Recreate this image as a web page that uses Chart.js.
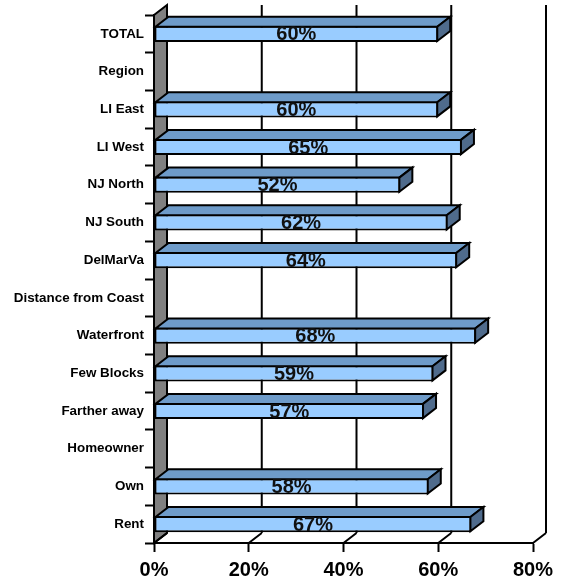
<!DOCTYPE html>
<html>
<head>
<meta charset="utf-8">
<script src="https://cdn.jsdelivr.net/npm/chart.js@4"></script>
<style>
  html, body { margin: 0; padding: 0; background: #fff; }
  #wrap { width: 561px; height: 581px; }
</style>
</head>
<body>
<div id="wrap"><canvas id="c" width="561" height="581"></canvas></div>
<script>
// Row labels, top to bottom (section headers carry no bar)
const categories = ['TOTAL', 'Region', 'LI East', 'LI West', 'NJ North', 'NJ South', 'DelMarVa',
  'Distance from Coast', 'Waterfront', 'Few Blocks', 'Farther away', 'Homeowner', 'Own', 'Rent'];
// Share per row, in percent
const shares = [60, null, 60, 65, 52, 62, 64, null, 68, 59, 57, null, 58, 67];
// Axis ticks, in percent
const xTicks = [0, 20, 40, 60, 80];

const FONT = '"Liberation Sans", Arial, sans-serif';
const DEPTH = { x: 13, y: -10 };   // offset of the back plane
const FRONT = '#99CCFF', TOP = '#6E9BC9', SIDE = '#4F6B8C', WALL = '#808080', INK = '#000';

// Back wall gridlines, floor lines and the grey left wall
const backPlane = {
  id: 'backPlane',
  beforeDraw(chart) {
    const { ctx, chartArea: a, scales: { x } } = chart;
    ctx.save();
    ctx.lineWidth = 2;
    ctx.strokeStyle = INK;
    // left wall
    ctx.beginPath();
    ctx.moveTo(a.left, a.top);
    ctx.lineTo(a.left + DEPTH.x, a.top + DEPTH.y);
    ctx.lineTo(a.left + DEPTH.x, a.bottom + DEPTH.y);
    ctx.lineTo(a.left, a.bottom);
    ctx.closePath();
    ctx.fillStyle = WALL;
    ctx.fill();
    ctx.stroke();
    // vertical gridlines on the back wall and diagonals across the floor
    xTicks.forEach(v => {
      const px = x.getPixelForValue(v);
      ctx.beginPath();
      if (v !== 0) {
        ctx.moveTo(px + DEPTH.x, a.top + DEPTH.y);
        ctx.lineTo(px + DEPTH.x, a.bottom + DEPTH.y);
      }
      ctx.moveTo(px + DEPTH.x, a.bottom + DEPTH.y);
      ctx.lineTo(px, a.bottom);
      ctx.stroke();
    });
    ctx.restore();
  }
};

// Top and side faces of each bar, then the value labels
const barFaces = {
  id: 'barFaces',
  afterDatasetsDraw(chart) {
    const { ctx } = chart;
    const meta = chart.getDatasetMeta(0);
    ctx.save();
    ctx.lineWidth = 2;
    ctx.strokeStyle = INK;
    ctx.lineJoin = 'miter';
    meta.data.forEach((bar, i) => {
      if (shares[i] == null) return;
      const p = bar.getProps(['x', 'y', 'base', 'height'], true);
      const xl = p.base + 1, xr = p.x - 1;
      const yt = p.y - p.height / 2 + 1, yb = p.y + p.height / 2 - 1;
      // top face
      ctx.beginPath();
      ctx.moveTo(xl, yt);
      ctx.lineTo(xl + DEPTH.x, yt + DEPTH.y);
      ctx.lineTo(xr + DEPTH.x, yt + DEPTH.y);
      ctx.lineTo(xr, yt);
      ctx.closePath();
      ctx.fillStyle = TOP;
      ctx.fill();
      ctx.stroke();
      // end face
      ctx.beginPath();
      ctx.moveTo(xr, yt);
      ctx.lineTo(xr + DEPTH.x, yt + DEPTH.y);
      ctx.lineTo(xr + DEPTH.x, yb + DEPTH.y);
      ctx.lineTo(xr, yb);
      ctx.closePath();
      ctx.fillStyle = SIDE;
      ctx.fill();
      ctx.stroke();
    });
    // value labels centred on the front face
    ctx.fillStyle = '#111';
    ctx.font = 'bold 20px ' + FONT;
    ctx.textAlign = 'center';
    ctx.textBaseline = 'middle';
    meta.data.forEach((bar, i) => {
      if (shares[i] == null) return;
      const p = bar.getProps(['x', 'y', 'base'], true);
      ctx.fillText(shares[i] + '%', (p.x + p.base) / 2, p.y + 1);
    });
    ctx.restore();
  }
};

new Chart(document.getElementById('c'), {
  type: 'bar',
  data: {
    labels: categories,
    datasets: [{
      data: shares,
      backgroundColor: FRONT,
      borderColor: INK,
      borderWidth: 2,
      borderSkipped: false,
      barPercentage: 0.43,
      categoryPercentage: 1
    }]
  },
  options: {
    indexAxis: 'y',
    responsive: false,
    animation: false,
    devicePixelRatio: 1,
    layout: { padding: { top: 15, right: 28, bottom: 0, left: 0 } },
    plugins: { legend: { display: false }, tooltip: { enabled: false } },
    scales: {
      x: {
        min: xTicks[0],
        max: xTicks[xTicks.length - 1],
        afterBuildTicks(scale) { scale.ticks = xTicks.map(v => ({ value: v })); },
        afterFit(scale) { scale.height = 38; },
        ticks: {
          callback: v => v + '%',
          color: INK,
          font: { family: FONT, size: 20, weight: 'bold' },
          padding: 6,
          maxRotation: 0
        },
        grid: { drawOnChartArea: false, drawTicks: true, tickLength: 9, tickColor: INK, tickWidth: 2 },
        border: { color: INK, width: 2 }
      },
      y: {
        afterFit(scale) { scale.width = 154; },
        ticks: {
          color: INK,
          font: { family: FONT, size: 13.4, weight: 'bold' },
          padding: 1
        },
        grid: { offset: true, drawOnChartArea: false, drawTicks: true, tickLength: 9, tickColor: INK, tickWidth: 2 },
        border: { color: INK, width: 2 }
      }
    }
  },
  plugins: [backPlane, barFaces]
});
</script>
</body>
</html>
